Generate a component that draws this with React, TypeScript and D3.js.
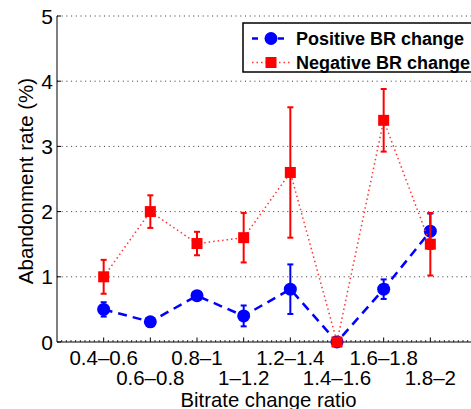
import React from "react";
import * as d3 from "d3";

const categories = ["0.4–0.6", "0.6–0.8", "0.8–1", "1–1.2", "1.2–1.4", "1.4–1.6", "1.6–1.8", "1.8–2"];
const positiveValues = [0.5, 0.31, 0.71, 0.4, 0.81, 0, 0.81, 1.7];
const positiveErrors = [0.11, 0, 0.06, 0.16, 0.38, 0, 0.15, 0.27];
const negativeValues = [1.0, 2.0, 1.51, 1.6, 2.6, 0, 3.4, 1.5];
const negativeErrors = [0.26, 0.25, 0.18, 0.38, 1.0, 0, 0.48, 0.48];
const yTicks = [0, 1, 2, 3, 4, 5];
const seriesNames = ["Positive BR change", "Negative BR change"];

const W = 471;
const H = 409;
const FONT = "'Liberation Sans', Arial, Helvetica, sans-serif";

export default function App() {
  const x = d3.scaleLinear().domain([0, 9]).range([57, 477]);
  const y = d3.scaleLinear().domain([0, 5]).range([342, 16]);
  const idx = categories.map((_, i) => i + 1);

  const line = d3
    .line<[number, number]>()
    .x((d) => x(d[0]))
    .y((d) => y(d[1]));

  const posPts: [number, number][] = idx.map((i, k) => [i, positiveValues[k]]);
  const negPts: [number, number][] = idx.map((i, k) => [i, negativeValues[k]]);

  const minorTicks = d3.range(0, 90).map((i) => i / 10).filter((v) => Math.abs(v - Math.round(v)) > 1e-6);

  const errBars = (vals: number[], errs: number[], color: string) =>
    vals.map((v, k) => {
      const e = errs[k];
      if (!e) return null;
      const cx = x(idx[k]);
      const y1 = y(v + e);
      const y2 = y(v - e);
      return (
        <g key={k} stroke={color} strokeWidth={2}>
          <line x1={cx} x2={cx} y1={y1} y2={y2} />
          <line x1={cx - 3} x2={cx + 3} y1={y1} y2={y1} />
          <line x1={cx - 3} x2={cx + 3} y1={y2} y2={y2} />
        </g>
      );
    });

  return (
    <div style={{ position: "fixed", left: 0, top: 0 }}>
      <svg width={W} height={H} style={{ display: "block", background: "#fff" }}>
        {/* gridlines */}
        {yTicks.filter((t) => t > 0).map((t) => (
          <line key={t} x1={x(0)} x2={W} y1={y(t)} y2={y(t)} stroke="#333" strokeWidth={1} strokeDasharray="1 3.7" />
        ))}
        {/* axes */}
        <line x1={x(0)} x2={x(0)} y1={y(5)} y2={y(0)} stroke="#000" strokeWidth={1} />
        <line x1={x(0)} x2={W} y1={y(0)} y2={y(0)} stroke="#000" strokeWidth={1} />
        {yTicks.map((t) => (
          <line key={"yt" + t} x1={x(0)} x2={x(0) + 4} y1={y(t)} y2={y(t)} stroke="#000" />
        ))}
        {minorTicks.map((v, i) => (
          <line key={"mt" + i} x1={x(v)} x2={x(v)} y1={y(0)} y2={y(0) - 2} stroke="#000" strokeWidth={0.8} />
        ))}
        {idx.map((i) => (
          <line key={"xt" + i} x1={x(i)} x2={x(i)} y1={y(0)} y2={y(0) - 4.5} stroke="#000" />
        ))}
        {/* y tick labels */}
        {yTicks.map((t) => (
          <text key={"yl" + t} x={53} y={y(t) + 7.5} textAnchor="end" fontFamily={FONT} fontSize={21} fill="#000">
            {t}
          </text>
        ))}
        {/* x tick labels */}
        {categories.map((c, k) => (
          <text
            key={"xl" + k}
            x={x(idx[k])}
            y={k % 2 === 0 ? 365 : 385}
            textAnchor="middle"
            fontFamily={FONT}
            fontSize={20.5}
            fill="#000"
          >
            {c}
          </text>
        ))}
        <text x={(180 + 357) / 2} y={406.5} textAnchor="middle" fontFamily={FONT} fontSize={20.3} fill="#000">
          Bitrate change ratio
        </text>
        <text
          transform={`translate(33,181) rotate(-90)`}
          textAnchor="middle"
          fontFamily={FONT}
          fontSize={20.5}
          fill="#000"
        >
          Abandonment rate (%)
        </text>

        {/* positive series */}
        {errBars(positiveValues, positiveErrors, "#0000ff")}
        <path d={line(posPts) || ""} fill="none" stroke="#0000ff" strokeWidth={2.5} strokeDasharray="9 6" />
        {posPts.map((p, k) => (
          <circle key={"pc" + k} cx={x(p[0])} cy={y(p[1])} r={6.5} fill="#0000ff" />
        ))}

        {/* negative series */}
        {errBars(negativeValues, negativeErrors, "#ff0000")}
        <path d={line(negPts) || ""} fill="none" stroke="#ff3333" strokeWidth={1.5} strokeDasharray="1.5 3" />
        {negPts.map((p, k) => (
          <rect key={"nr" + k} x={x(p[0]) - 5.5} y={y(p[1]) - 5.5} width={11} height={11} fill="#ff0000" />
        ))}

        {/* legend */}
        <rect x={243} y={23} width={240} height={49} fill="#fff" stroke="#000" strokeWidth={1.5} />
        <line x1={252} x2={290} y1={38.5} y2={38.5} stroke="#0000ff" strokeWidth={2.5} strokeDasharray="6 7" />
        <circle cx={271} cy={38.5} r={6.5} fill="#0000ff" />
        <text x={296} y={44.5} fontFamily={FONT} fontSize={18} fontWeight="bold" fill="#000">
          {seriesNames[0]}
        </text>
        <line x1={252} x2={290} y1={62.5} y2={62.5} stroke="#ff3333" strokeWidth={1.5} strokeDasharray="1.5 3" />
        <rect x={265.5} y={57} width={11} height={11} fill="#ff0000" />
        <text x={296} y={68.5} fontFamily={FONT} fontSize={18} fontWeight="bold" fill="#000">
          {seriesNames[1]}
        </text>
      </svg>
    </div>
  );
}
